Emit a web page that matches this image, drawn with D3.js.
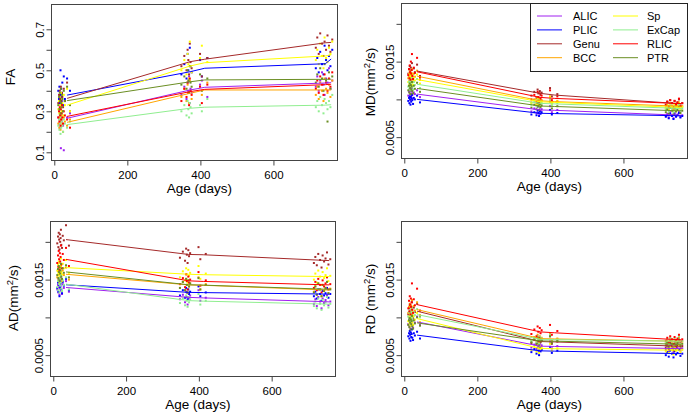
<!DOCTYPE html>
<html><head><meta charset="utf-8">
<script src="https://cdn.jsdelivr.net/npm/d3@7"></script>
<style>body{margin:0;background:#fff} svg{display:block} text{font-family:"Liberation Sans",Arial,Helvetica,sans-serif;fill:#000}</style>
</head><body><svg id="c" width="690" height="415"></svg>
<script>
// ---------------- DATA ----------------
const regions = ["ALIC","PLIC","Genu","BCC","Sp","ExCap","RLIC","PTR"];
const regionColors = ["#A020F0","#0000FF","#A52A2A","#FFA500","#FFFF00","#90EE90","#FF0000","#6B8E23"];
// subject ages (days) at the three scan time points
const agesT1 = [11,13,14,15,16,17,18,19,20,21,22,24,26,29,35,43];
const agesT2 = [348,356,362,365,367,369,371,373,376,399,404,419];
const agesT3 = [716,720,724,728,733,737,740,744,748,752,756,761];
// ages at which the mean trajectory lines are drawn
const lineAges = [35,372,412,742,758];
const xTicks = [0,200,400,600];
const faTicks = [0.1,0.2,0.3,0.4,0.5,0.6,0.7];
const faTickLabels = ["0.1","","0.3","","0.5","","0.7"];
const diffTicks = [0.0005,0.0010,0.0015,0.0020];
const diffTickLabels = ["0.0005","","0.0015",""];

// FA (values x 0.01)
const faLines = [
 [26.6,40.4,41.7,43.8,44.0],[37.9,49.3,51.0,53.2,55.5],[36.3,54.2,55.4,63.4,63.6],[24.6,38.8,40.4,40.4,40.4],
 [33.0,52.1,53.7,57.0,57.5],[23.5,31.5,32.0,33.0,33.2],[27.5,39.6,40.7,43.0,43.2],[35.2,44.4,45.3,45.6,45.7]];
const faT1 = ["27 24 31 22 29 26 12 33 25 28 30 23 11 35 27 29","40 36 42 34 38 50 37 41 35 39 44 33 47 36 46 40",
 "34 38 31 40 36 29 42 35 33 39 37 32 41 35 44 30","24 27 22 29 25 21 28 23 26 30 24 20 27 25 23 26",
 "31 35 29 37 33 27 39 32 30 36 34 28 38 33 41 30","23 26 21 28 24 19 27 22 25 29 23 20 26 24 22 25",
 "27 30 25 32 28 23 31 26 29 33 27 24 30 28 26 22","33 37 31 39 35 29 41 34 32 38 36 30 40 35 42 33"];
const faT2 = ["38 42 36 44 40 47 34 41 39 43 45 37","48 53 46 58 50 45 61 52 49 55 47 56",
 "52 57 50 60 55 48 63 54 51 58 47 56","37 41 35 43 39 34 45 40 36 42 38 44",
 "50 55 48 58 53 46 64 52 49 56 62 54","30 33 28 35 31 27 34 32 29 33 30 36",
 "35 41 37 44 39 33 46 40 38 42 34 43","43 47 41 50 45 39 52 44 42 48 40 46"];
const faT3 = ["42 47 40 45 49 43 38 46 44 51 41 45","51 56 49 59 53 48 62 55 50 57 52 60",
 "61 66 58 68 63 57 64 60 67 62 59 65","38 42 36 44 40 35 46 41 39 43 37 45",
 "55 60 53 63 57 51 66 56 54 61 58 64","32 35 30 37 33 29 36 34 31 35 32 38",
 "41 45 39 47 43 38 48 44 40 46 42 49","44 48 42 51 46 40 53 45 25 49 41 47"];

// MD (values x 1e-5 mm^2/s)
const mdLines = [
 [107,86,85.5,79.3,79],[100,81.6,81.2,78.4,78.2],[137.5,108,105.7,94.7,94.5],[130.7,98.2,97,91.2,91],
 [126.3,96.8,96,89.5,89.3],[120,94.7,94,88.2,88],[136.5,102.6,101.3,94.7,94.5],[114.5,91.2,90.6,85,84.8]];
const mdT1 = ["105 110 102 113 107 99 111 104 108 115 106 101 109 107 112 103","98 102 95 104 100 93 103 97 101 106 99 94 102 100 105 96",
 "134 140 130 144 137 128 142 135 139 148 133 129 141 136 146 131","128 134 125 137 131 123 135 129 133 140 127 124 134 130 138 126",
 "123 129 120 132 126 118 130 124 128 134 122 119 129 125 133 121","117 123 114 126 120 112 124 118 122 128 116 113 123 119 127 115",
 "132 140 128 145 136 126 150 134 139 160 131 127 142 135 155 129","112 118 109 121 115 107 119 113 117 123 111 108 118 114 122 110"];
const mdT2 = ["84 88 82 90 86 81 89 85 87 91 83 86","80 83 79 85 82 78 84 81 83 86 80 82",
 "105 110 102 113 108 100 111 106 109 115 104 107","96 100 94 103 98 93 101 97 99 104 95 98",
 "95 99 93 101 97 92 100 96 98 103 94 97","93 97 91 99 95 90 98 94 96 100 92 95",
 "100 106 97 110 103 95 108 101 105 112 99 104","89 93 87 95 91 86 94 90 92 97 88 91"];
const mdT3 = ["78 81 76 83 79 75 82 78 80 84 77 79","77 79 75 81 78 74 80 77 79 82 76 78",
 "93 97 91 99 95 90 98 94 96 100 92 95","89 93 87 95 91 86 94 90 92 96 88 91",
 "88 92 86 94 90 85 93 89 91 95 87 90","86 90 84 92 88 83 91 87 89 93 85 88",
 "92 97 90 99 95 89 98 93 96 101 91 95","83 87 81 89 85 80 88 84 86 90 82 85"];

// AD (values x 1e-5 mm^2/s)
const adLines = [
 [139.6,126.5,125.8,120.9,120.5],[143.2,133.1,132.8,130.9,130.7],[203,183.3,182.9,175.5,175.2],[157.1,143,142.5,136.5,136.2],
 [165.9,157.1,156.5,154.1,154],[144,122.2,121.5,117.7,117.5],[176.8,148.4,147.6,143.2,143],[160.2,143.2,142.7,137.4,137.2]];
const adT1 = ["137 143 133 147 140 130 145 138 142 150 135 131 144 139 148 134","139 146 134 150 143 128 148 140 145 154 137 132 147 142 151 136",
 "198 207 193 212 203 190 210 200 205 216 196 192 208 202 222 195","153 161 149 165 157 146 163 155 159 168 151 148 162 156 166 150",
 "162 170 158 174 166 155 172 164 168 178 160 157 171 165 176 159","140 148 136 152 144 133 150 142 146 155 138 135 149 143 153 137",
 "172 182 167 188 177 163 185 174 180 195 170 165 184 176 192 168","156 164 152 168 160 149 166 158 162 171 154 151 165 159 169 153"];
const adT2 = ["124 130 120 134 127 117 132 125 129 136 122 126","129 136 126 139 133 124 137 131 134 141 128 133",
 "179 187 175 191 183 172 189 181 185 193 177 184","139 147 136 151 143 133 149 141 145 153 137 144",
 "153 161 149 165 157 146 163 155 159 168 151 158","119 125 116 129 122 114 127 120 124 131 117 122",
 "144 152 140 157 148 137 154 146 150 160 142 149","139 147 136 151 143 133 149 141 145 152 137 143"];
const adT3 = ["118 124 115 127 121 112 125 119 123 129 116 121","128 134 125 137 131 122 135 129 132 139 126 131",
 "172 180 169 184 176 166 182 174 178 186 170 177","134 141 130 145 137 128 143 135 139 147 132 138",
 "150 158 146 162 154 143 160 152 156 165 148 155","115 121 112 125 118 110 123 116 120 127 113 118",
 "139 147 136 151 143 133 149 141 145 153 137 144","133 141 130 145 137 128 143 135 139 147 132 137"];

// RD (values x 1e-5 mm^2/s)
const rdLines = [
 [94,61.9,61.5,58.8,58.6],[76.5,55.7,55.3,52.1,52],[108.2,68,67.5,62,61.8],[110.3,72,71.5,68.5,68.3],
 [98.4,58.8,58.5,56.6,56.5],[103.7,71,70.6,68.5,68.4],[116.9,80.8,79.6,70.6,70.4],[92.7,68.9,68.5,64.6,64.4]];
const rdT1 = ["91 97 88 100 94 85 98 92 96 103 89 86 97 93 101 90","75 79 72 82 77 69 80 74 78 84 73 70 79 76 81 72",
 "104 112 100 116 108 97 114 106 110 120 102 99 113 107 118 101","106 114 102 118 110 99 116 108 112 123 104 101 115 109 120 103",
 "95 101 92 105 98 89 103 96 100 108 93 90 102 97 106 94","101 107 98 110 104 95 108 102 106 113 99 96 107 103 111 100",
 "112 122 108 128 117 104 125 114 120 145 110 106 124 116 138 109","90 96 87 99 93 84 97 91 95 102 88 85 96 92 100 89"];
const rdT2 = ["60 64 58 66 62 56 65 61 63 68 59 62","54 58 52 60 56 50 59 55 57 61 53 56",
 "66 70 64 73 68 62 71 67 69 75 65 68","70 74 68 77 72 66 75 71 73 79 69 72",
 "57 61 55 63 59 53 62 58 60 65 56 59","69 73 67 75 71 65 74 70 72 77 68 71",
 "78 84 75 88 81 73 86 79 83 90 77 82","67 71 65 73 69 63 72 68 70 75 66 69"];
const rdT3 = ["57 61 55 63 59 53 62 58 60 64 56 59","50 54 48 56 52 47 55 51 53 57 49 52",
 "60 64 58 66 62 56 65 61 63 68 59 62","66 70 64 72 68 62 71 67 69 74 65 68",
 "55 59 53 61 57 51 60 56 58 63 54 57","67 71 65 73 69 63 72 68 70 75 66 69",
 "69 73 67 75 71 65 74 70 72 77 68 71","63 67 61 69 65 59 68 64 66 71 62 65"];

// ---------------- LAYOUT ----------------
const xDomain = [-9, 774];
const diffDomain = [0.000224, 0.002276];
const panels = [
 {title:["FA"], lines:faLines, pts:[faT1,faT2,faT3], unit:0.01, left:51, right:337, top:4, bottom:160,
  yDomain:[0.0624,0.8234], ticks:faTicks, tickLabels:faTickLabels, titleX:10, titleY:77},
 {title:["MD(mm","2","/s)"], lines:mdLines, pts:[mdT1,mdT2,mdT3], unit:1e-5, left:401, right:687, top:3, bottom:158,
  yDomain:diffDomain, ticks:diffTicks, tickLabels:diffTickLabels, titleX:370, titleY:82, legend:true},
 {title:["AD(mm","2","/s)"], lines:adLines, pts:[adT1,adT2,adT3], unit:1e-5, left:50, right:335, top:221, bottom:376,
  yDomain:diffDomain, ticks:diffTicks, tickLabels:diffTickLabels, titleX:13, titleY:298},
 {title:["RD (mm","2","/s)"], lines:rdLines, pts:[rdT1,rdT2,rdT3], unit:1e-5, left:401, right:687, top:221, bottom:376,
  yDomain:diffDomain, ticks:diffTicks, tickLabels:diffTickLabels, titleX:370, titleY:299}
];

const svg = d3.select("#c");
const TICKFS = 11.5, TITLEFS = 13.5;

panels.forEach(p => {
  const x = d3.scaleLinear().domain(xDomain).range([p.left, p.right]);
  const y = d3.scaleLinear().domain(p.yDomain).range([p.bottom, p.top]);
  const g = svg.append("g");

  // points
  const pts = [];
  regions.forEach((r, ri) => {
    [agesT1, agesT2, agesT3].forEach((ages, ti) => {
      p.pts[ti][ri].trim().split(/\s+/).map(Number).forEach((v, k) => {
        pts.push({ri, age: ages[k], v: v * p.unit});
      });
    });
  });
  g.append("g").selectAll("rect").data(pts).join("rect")
    .attr("x", d => x(d.age) - 1).attr("y", d => y(d.v) - 1)
    .attr("width", 2).attr("height", 2)
    .attr("fill", d => regionColors[d.ri]);

  // mean lines
  const line = d3.line().x((d, i) => x(lineAges[i])).y(d => y(d * p.unit));
  g.append("g").selectAll("path").data(p.lines).join("path")
    .attr("d", line).attr("fill", "none")
    .attr("stroke", (d, i) => regionColors[i]).attr("stroke-width", 1);

  // box
  g.append("rect").attr("x", p.left + 0.5).attr("y", p.top + 0.5)
    .attr("width", p.right - p.left).attr("height", p.bottom - p.top)
    .attr("fill", "none").attr("stroke", "#444").attr("stroke-width", 1);

  // x axis
  const xa = g.append("g").attr("transform", `translate(0,${p.bottom + 0.5})`)
    .call(d3.axisBottom(x).tickValues(xTicks).tickSize(5).tickPadding(5.5).tickFormat(d3.format("d")));
  xa.select(".domain").attr("d", `M${x(xTicks[0])},0H${x(xTicks[xTicks.length-1])}`).attr("stroke", "#444");
  xa.selectAll(".tick line").attr("stroke", "#444");
  xa.selectAll("text").attr("font-size", TICKFS).attr("font-family", null);

  // y axis
  const ya = g.append("g").attr("transform", `translate(${p.left + 0.5},0)`)
    .call(d3.axisLeft(y).tickValues(p.ticks).tickSize(5).tickFormat((d, i) => p.tickLabels[i]));
  ya.select(".domain").attr("d", `M0,${y(p.ticks[0])}V${y(p.ticks[p.ticks.length-1])}`).attr("stroke", "#444");
  ya.selectAll(".tick line").attr("stroke", "#444");
  ya.selectAll("text").attr("x", null).attr("dy", null).attr("font-size", TICKFS).attr("font-family", null)
    .attr("text-anchor", "middle").attr("transform", "translate(-8,0) rotate(-90)");

  // x title
  svg.append("text").attr("x", x(397)).attr("y", p.bottom + 33)
    .attr("text-anchor", "middle").attr("font-size", TITLEFS).text("Age (days)");

  // y title
  const t = svg.append("text").attr("text-anchor", "middle").attr("font-size", TITLEFS)
    .attr("transform", `translate(${p.titleX + 5},${p.titleY}) rotate(-90)`);
  t.append("tspan").text(p.title[0]);
  if (p.title.length > 1) {
    t.append("tspan").attr("font-size", 9.5).attr("dy", -5).text(p.title[1]);
    t.append("tspan").attr("dy", 5).text(p.title[2]);
  }

  // legend
  if (p.legend) {
    const lg = svg.append("g");
    lg.append("rect").attr("x", 530.5).attr("y", p.top + 0.5).attr("width", p.right - 530)
      .attr("height", 68).attr("fill", "#fff").attr("stroke", "#222").attr("stroke-width", 1);
    regions.forEach((r, i) => {
      const col = Math.floor(i / 4), row = i % 4;
      const lx = col === 0 ? 537 : 613, tx = col === 0 ? 573 : 647;
      const ly = 16 + row * 13.9;
      lg.append("line").attr("x1", lx).attr("x2", lx + 25).attr("y1", ly).attr("y2", ly)
        .attr("stroke", regionColors[i]).attr("stroke-width", 1);
      lg.append("text").attr("x", tx).attr("y", ly).attr("dy", "0.36em")
        .attr("font-size", 11).text(r);
    });
  }
});
</script>
</body></html>
